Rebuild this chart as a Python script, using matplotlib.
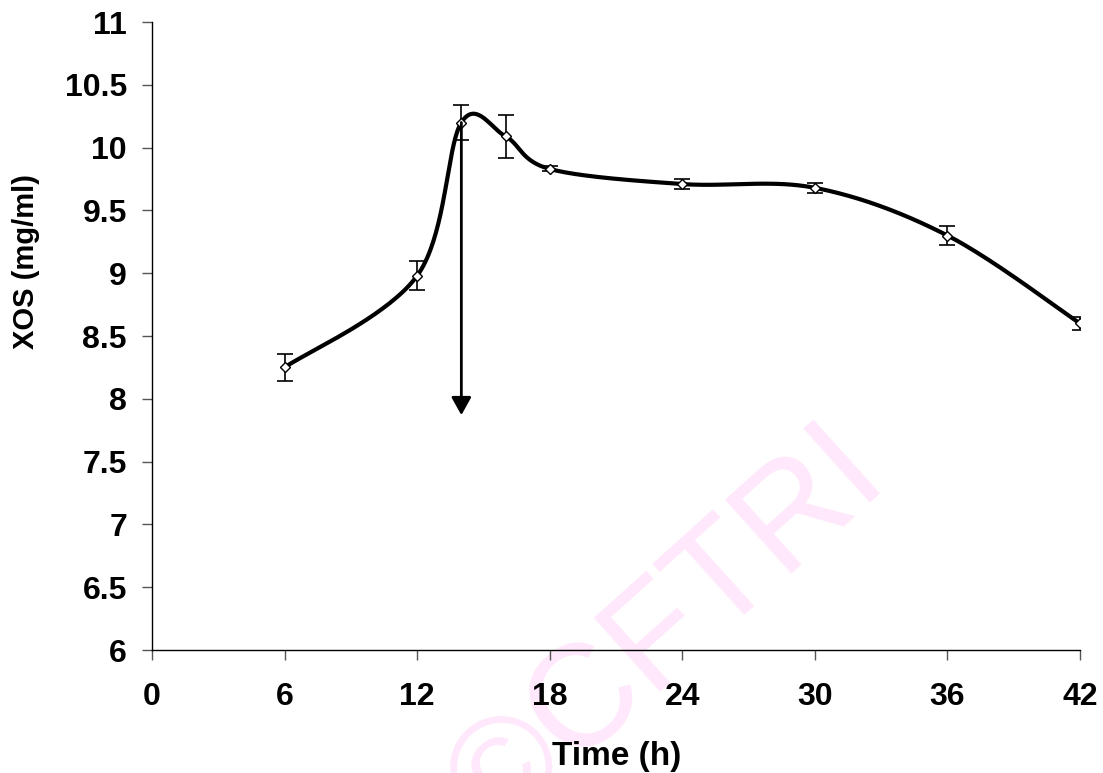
import numpy as np
import matplotlib
matplotlib.use("Agg")
import matplotlib.pyplot as plt
from matplotlib.patches import ArrowStyle

# Data
time_h = [6, 12, 14, 16, 18, 24, 30, 36, 42]
xos = [8.25, 8.98, 10.2, 10.09, 9.83, 9.71, 9.68, 9.30, 8.60]
xos_err = [0.11, 0.115, 0.14, 0.17, 0.02, 0.04, 0.04, 0.075, 0.05]
arrow_x = 14
arrow_top, arrow_bottom = 10.2, 7.87
x_ticks = [0, 6, 12, 18, 24, 30, 36, 42]
y_ticks = [6, 6.5, 7, 7.5, 8, 8.5, 9, 9.5, 10, 10.5, 11]
y_tick_labels = ["6", "6.5", "7", "7.5", "8", "8.5", "9", "9.5", "10", "10.5", "11"]


def smooth_curve(xs, ys, n=40):
    # excel-like smoothed line: cubic bezier with catmull-rom control points
    p = np.column_stack([xs, ys]).astype(float)
    out = []
    for i in range(len(p) - 1):
        p0 = p[i - 1] if i > 0 else p[i]
        p3 = p[i + 2] if i + 2 < len(p) else p[i + 1]
        c1 = p[i] + (p[i + 1] - p0) / 6.0
        c2 = p[i + 1] - (p3 - p[i]) / 6.0
        t = np.linspace(0, 1, n)[:, None]
        seg = ((1 - t) ** 3) * p[i] + 3 * ((1 - t) ** 2) * t * c1 \
            + 3 * (1 - t) * t ** 2 * c2 + t ** 3 * p[i + 1]
        out.append(seg if i == 0 else seg[1:])
    out = np.vstack(out)
    return out[:, 0], out[:, 1]


plt.rcParams['font.family'] = ['Liberation Sans', 'DejaVu Sans']

fig = plt.figure(figsize=(11.03, 7.73), dpi=100)
ax = fig.add_axes([0.1378, 0.1591, 0.8414, 0.8124])
ax.patch.set_alpha(0)

# watermark behind everything
fig.text(668 / 1103, 1 - 632 / 773, "©CFTRI", rotation=42, fontsize=104,
         color="#ffe8fb", ha="center", va="center", zorder=-5)

sx, sy = smooth_curve(time_h, xos)
ax.plot(sx, sy, color="black", lw=3.0, zorder=3, solid_capstyle="round")
ax.errorbar(time_h, xos, yerr=xos_err, fmt="none", ecolor="black",
            elinewidth=1.2, capsize=6, capthick=1.2, zorder=2)
ax.plot(time_h, xos, linestyle="none", marker="D", ms=5.5, mfc="white",
        mec="black", mew=1.0, zorder=4)

ax.annotate("", xy=(arrow_x, arrow_bottom), xytext=(arrow_x, arrow_top),
            arrowprops=dict(arrowstyle=ArrowStyle("-|>", head_length=0.9, head_width=0.5),
                            mutation_scale=12, lw=2, color="black",
                            shrinkA=0, shrinkB=0), zorder=5)

ax.set_xlim(0, 42)
ax.set_ylim(6, 11)
ax.set_xticks(x_ticks)
ax.set_yticks(y_ticks)
ax.set_yticklabels(y_tick_labels)
for s in ["top", "right"]:
    ax.spines[s].set_visible(False)
for s in ["left", "bottom"]:
    ax.spines[s].set_linewidth(1.0)

ax.tick_params(axis="x", direction="out", length=7, width=1, pad=16,
               labelsize=23, color="#555555")
ax.tick_params(axis="y", direction="out", length=7, width=1, pad=11,
               labelsize=23, color="#555555")
for lab in ax.get_xticklabels() + ax.get_yticklabels():
    lab.set_fontweight("bold")

ax.set_xlabel("Time (h)", fontsize=24, fontweight="bold")
ax.set_ylabel("XOS (mg/ml)", fontsize=21, fontweight="bold")
ax.xaxis.set_label_coords(0.501, -0.170)
ax.yaxis.set_label_coords(-0.136, 0.618)
ax.xaxis.label.set_va("center")
ax.yaxis.label.set_va("center")

fig.savefig("out.png", dpi=100)
